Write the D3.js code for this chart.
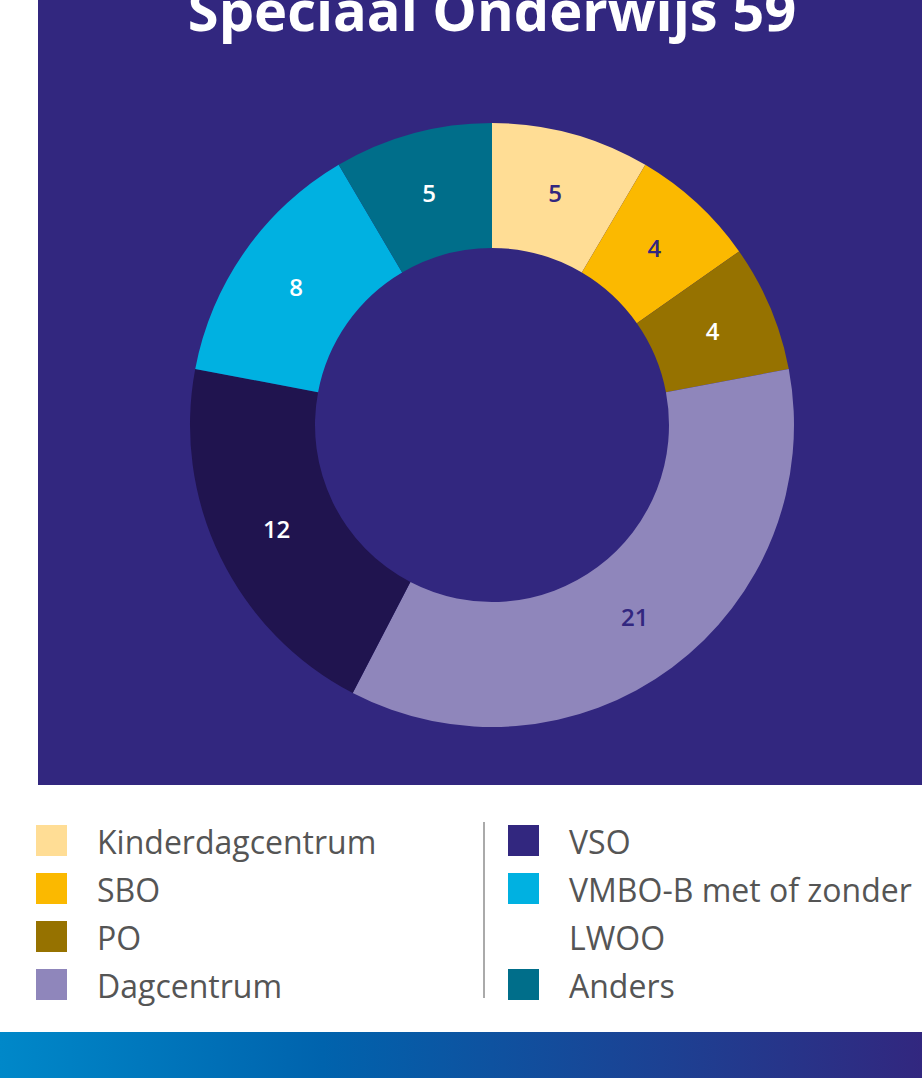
<!DOCTYPE html>
<html>
<head>
<meta charset="utf-8">
<script src="https://cdnjs.cloudflare.com/ajax/libs/d3/7.8.5/d3.min.js"></script>
<style>
  body { margin: 0; background: #fff; }
  svg { display: block; font-family: "Open Sans", sans-serif; }
</style>
</head>
<body>
<div id="chart"></div>
<script>
var width = 922;
var height = 1078;

// data
var categories = ["Kinderdagcentrum", "SBO", "PO", "Dagcentrum", "VSO", "VMBO-B met of zonder LWOO", "Anders"];
var values = [5, 4, 4, 21, 12, 8, 5];
var colors = ["#ffdd95", "#fbb900", "#967200", "#8f86bb", "#20144f", "#00b1e1", "#006e8a"];
var legendColors = ["#ffdd95", "#fbb900", "#967200", "#8f86bb", "#32277f", "#00b1e1", "#006e8a"];
var labelColors = ["#32277f", "#32277f", "#ffffff", "#32277f", "#ffffff", "#ffffff", "#ffffff"];
var title = "Speciaal Onderwijs 59";

var data = categories.map(function(c, i) {
    return {name: c, value: values[i], color: colors[i], legendColor: legendColors[i], labelColor: labelColors[i]};
});

var svg = d3.select("#chart")
    .append("svg")
    .attr("width", width)
    .attr("height", height);

// purple panel
svg.append("rect")
    .attr("x", 38)
    .attr("y", 0)
    .attr("width", width - 38)
    .attr("height", 785)
    .attr("fill", "#32277f");

svg.append("text")
    .attr("x", 492)
    .attr("y", 31)
    .attr("text-anchor", "middle")
    .attr("fill", "#fff")
    .style("font-size", "56px")
    .style("font-weight", "bold")
    .text(title);

// donut
var cx = 492, cy = 425;
var outerR = 302, innerR = 177;

var pie = d3.pie()
    .sort(null)
    .value(function(d) { return d.value; });

var arc = d3.arc()
    .innerRadius(innerR)
    .outerRadius(outerR);

var g = svg.append("g")
    .attr("transform", "translate(" + cx + "," + cy + ")");

var slices = g.selectAll("g.slice")
    .data(pie(data))
    .enter()
    .append("g")
    .attr("class", "slice");

slices.append("path")
    .attr("d", arc)
    .attr("fill", function(d) { return d.data.color; });

slices.append("text")
    .attr("transform", function(d) { return "translate(" + arc.centroid(d) + ")"; })
    .attr("dy", "0.35em")
    .attr("text-anchor", "middle")
    .attr("fill", function(d) { return d.data.labelColor; })
    .style("font-size", "24px")
    .style("font-weight", 600)
    .text(function(d) { return d.data.value; });

// legend
var legend = svg.append("g");
var rowH = 48;

function legendItem(d, x, row) {
    legend.append("rect")
        .attr("x", x)
        .attr("y", 825 + row * rowH)
        .attr("width", 31)
        .attr("height", 31)
        .attr("fill", d.legendColor);
}

function legendText(txt, x, row) {
    legend.append("text")
        .attr("x", x)
        .attr("y", 854 + row * rowH)
        .attr("fill", "#555")
        .style("font-size", "32px")
        .text(txt);
}

for (var i = 0; i < 4; ++i) {
    legendItem(data[i], 36, i);
    legendText(data[i].name, 97, i);
}

legendItem(data[4], 508, 0);
legendText(data[4].name, 569, 0);
legendItem(data[5], 508, 1);
legendText("VMBO-B met of zonder", 569, 1);
legendText("LWOO", 569, 2);
legendItem(data[6], 508, 3);
legendText(data[6].name, 569, 3);

legend.append("line")
    .attr("x1", 484).attr("x2", 484)
    .attr("y1", 822).attr("y2", 998)
    .attr("stroke", "#aaa")
    .attr("stroke-width", 2);

// bottom gradient bar
var grad = svg.append("defs")
    .append("linearGradient")
    .attr("id", "bar");
grad.append("stop").attr("offset", "0%").attr("stop-color", "#0088c9");
grad.append("stop").attr("offset", "35%").attr("stop-color", "#0063ad");
grad.append("stop").attr("offset", "100%").attr("stop-color", "#32277f");

svg.append("rect")
    .attr("x", 0)
    .attr("y", 1032)
    .attr("width", width)
    .attr("height", height - 1032)
    .attr("fill", "url(#bar)");
</script>
</body>
</html>
